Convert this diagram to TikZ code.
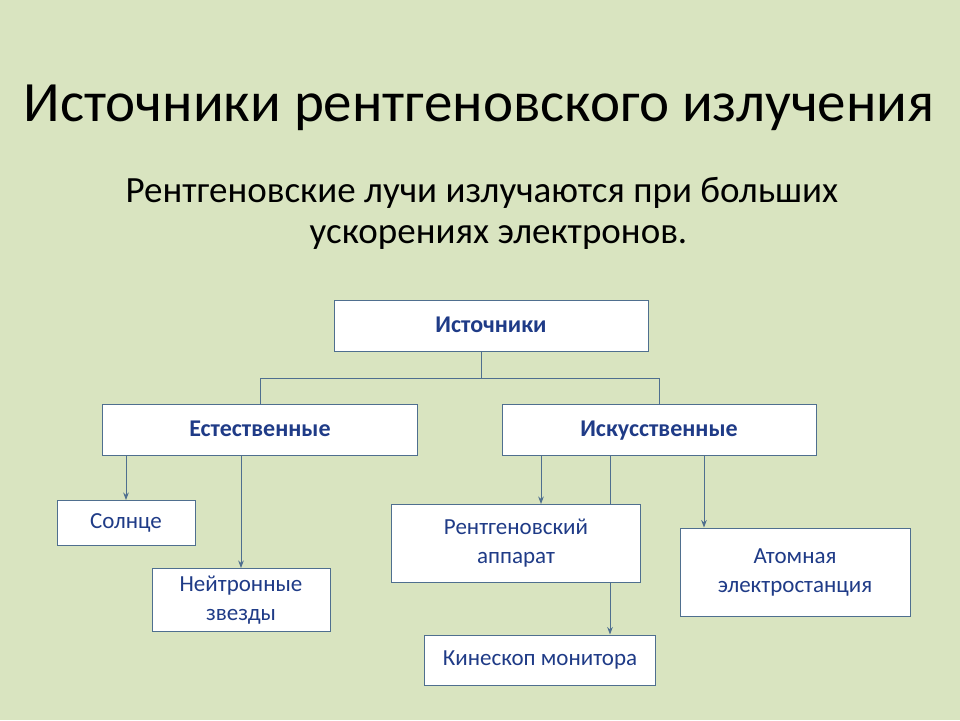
\documentclass[tikz,border=0pt]{standalone}
\usepackage{fontspec}
\setmainfont{Carlito}
\usetikzlibrary{arrows.meta, positioning}
\definecolor{bgcol}{HTML}{D9E4C0}
\definecolor{txtcol}{HTML}{1F3B87}
\definecolor{linecol}{HTML}{4F6F8F}

\begin{document}
\begin{tikzpicture}[x=1pt, y=-1pt, >=Stealth,
			box/.style={draw=linecol, line width=1pt, fill=white, text=txtcol, align=center, inner sep=0pt, font=\fontsize{23}{29}\selectfont},
			headbox/.style={box, font=\fontsize{24}{29}\selectfont\bfseries, text height=17pt, text depth=5pt},
			link/.style={draw=linecol, line width=1pt},
			arr/.style={link, ->}]
			
			\fill[bgcol] (0,0) rectangle (960,720);
			\useasboundingbox (0,0) rectangle (960,720);
			
			% Заголовок
			\node[font=\fontsize{57}{68}\selectfont] (title) at (479,108) {Источники рентгеновского излучения};
			\node[font=\fontsize{37}{45}\selectfont, anchor=west] (sub1) at (122,193) {Рентгеновские лучи излучаются при больших};
			\node[font=\fontsize{37}{45}\selectfont, anchor=west] (sub2) at (306,237) {ускорениях электронов.};
			
			% Блоки
			\node[headbox, minimum width=314pt, minimum height=51pt] (src) at (491,326) {Источники};
			\node[headbox, minimum width=315pt, minimum height=51pt] (nat) at (260,430) {Естественные};
			\node[headbox, minimum width=314pt, minimum height=51pt] (art) at (659,430) {Искусственные};
			\node[box, minimum width=138pt, minimum height=45pt] (sun) at (126,523) {Солнце};
			\node[box, minimum width=178pt, minimum height=63pt] (star) at (241,600) {Нейтронные\\звезды};
			\coordinate (xpass) at (610,456);
			\draw[link] (xpass) -- (610,582);
			\node[box, minimum width=249pt, minimum height=78pt] (xray) at (516,543) {Рентгеновский\\аппарат};
			\node[box, minimum width=230pt, minimum height=88pt] (npp) at (795,572) {Атомная\\электростанция};
			\node[box, minimum width=231pt, minimum height=50pt] (kine) at (540,660) {Кинескоп монитора};
			
			% Связи
			\coordinate (fork) at (481,378);
			\draw[link] (src.south -| fork) -- (fork);
			\draw[link] (fork -| nat.north) -- (fork -| art.north);
			\draw[link] (fork -| nat.north) -- (nat.north);
			\draw[link] (fork -| art.north) -- (art.north);
			
			\draw[arr] (nat.south -| sun) -- (sun.north);
			\draw[arr] (nat.south -| star) -- (star.north);
			\draw[arr] (art.south -| 541,0) -- (541,504);
			\draw[arr] (xray.south -| xpass) -- (kine.north -| xpass);
			\draw[arr] (art.south -| 704,0) -- (npp.north -| 704,0);
			
		\end{tikzpicture}
\end{document}
